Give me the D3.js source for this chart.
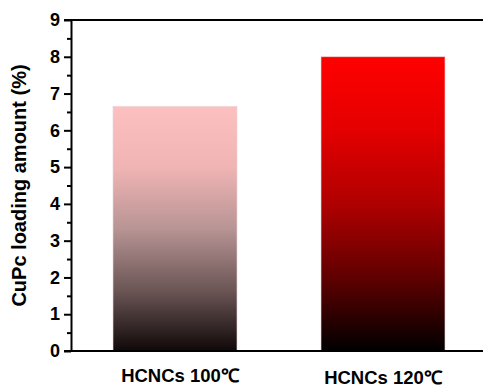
<!DOCTYPE html>
<html>
<head>
<meta charset="utf-8">
<script src="https://cdn.jsdelivr.net/npm/d3@7"></script>
<style>
  html, body { margin: 0; padding: 0; background: #fff; }
  svg { display: block; }
</style>
</head>
<body>
<svg id="chart"></svg>
<script>
// data
const categories = ['HCNCs 100℃', 'HCNCs 120℃'];
const loading = [6.65, 8.0];
const yTicks = [0, 1, 2, 3, 4, 5, 6, 7, 8, 9];
const yMinorTicks = [0.5, 1.5, 2.5, 3.5, 4.5, 5.5, 6.5, 7.5, 8.5];
const yTitle = 'CuPc loading amount (%)';

// gradient colours per bar, top -> bottom
const barStops = [
  [['0%', '#fdc0c0'], ['25%', '#f0b4b4'], ['50%', '#b89494'], ['75%', '#6c5656'], ['100%', '#100808']],
  [['0%', '#ff0000'], ['25%', '#e40000'], ['50%', '#b00000'], ['75%', '#600000'], ['100%', '#000000']]
];

const width = 483, height = 387;
const marginLeft = 71, marginTop = 20, bottomY = 351;
const font = '"Liberation Sans", Arial, Helvetica, sans-serif';

const svg = d3.select('#chart')
  .attr('width', width)
  .attr('height', height)
  .attr('viewBox', [0, 0, width, height]);

const x = d3.scaleBand()
  .domain(categories)
  .range([marginLeft, marginLeft + 416])
  .paddingInner(0.404)
  .paddingOuter(0.202);

const y = d3.scaleLinear()
  .domain([0, 9])
  .range([bottomY, marginTop]);

// gradients
const defs = svg.append('defs');
categories.forEach((c, i) => {
  const g = defs.append('linearGradient')
    .attr('id', `grad${i}`)
    .attr('x1', 0).attr('y1', 0)
    .attr('x2', 0).attr('y2', 1);
  g.selectAll('stop')
    .data(barStops[i])
    .join('stop')
    .attr('offset', d => d[0])
    .attr('stop-color', d => d[1]);
});

// bars
svg.append('g')
  .selectAll('rect')
  .data(categories)
  .join('rect')
  .attr('x', d => x(d))
  .attr('y', (d, i) => y(loading[i]))
  .attr('width', x.bandwidth())
  .attr('height', (d, i) => y(0) - y(loading[i]))
  .attr('fill', (d, i) => `url(#grad${i})`)
  .attr('stroke', '#e8d0d0')
  .attr('stroke-width', 0.6);

// minor ticks
svg.append('g')
  .attr('transform', `translate(${marginLeft},0)`)
  .call(d3.axisLeft(y).tickValues(yMinorTicks).tickSize(4).tickFormat(''))
  .call(g => g.select('.domain').remove())
  .call(g => g.selectAll('.tick line').attr('stroke', '#000').attr('stroke-width', 2));

// y axis
svg.append('g')
  .attr('transform', `translate(${marginLeft},0)`)
  .call(d3.axisLeft(y).tickValues(yTicks).tickSize(7).tickSizeOuter(0).tickPadding(4))
  .call(g => g.select('.domain').attr('stroke', '#000').attr('stroke-width', 2))
  .call(g => g.selectAll('.tick line').attr('stroke', '#000').attr('stroke-width', 2))
  .call(g => g.selectAll('.tick text')
    .attr('fill', '#000')
    .attr('font-family', font)
    .attr('font-weight', 'bold')
    .attr('font-size', 18));

// bottom axis line and top frame line
svg.append('line')
  .attr('x1', marginLeft - 7).attr('x2', width)
  .attr('y1', y(0)).attr('y2', y(0))
  .attr('stroke', '#000').attr('stroke-width', 2);
svg.append('line')
  .attr('x1', marginLeft - 7).attr('x2', width)
  .attr('y1', y(9)).attr('y2', y(9))
  .attr('stroke', '#000').attr('stroke-width', 2);

// x labels
svg.append('g')
  .selectAll('text')
  .data(categories)
  .join('text')
  .attr('x', (d, i) => x(d) + x.bandwidth() / 2 + (i ? 0 : 5))
  .attr('y', (d, i) => 382 + i * 1.5)
  .attr('text-anchor', 'middle')
  .attr('font-family', font)
  .attr('font-weight', 'bold')
  .attr('font-size', 18.5)
  .text(d => d);

// y title
svg.append('text')
  .attr('transform', `translate(26,${(marginTop + bottomY) / 2}) rotate(-90)`)
  .attr('text-anchor', 'middle')
  .attr('font-family', font)
  .attr('font-weight', 'bold')
  .attr('font-size', 20)
  .text(yTitle);
</script>
</body>
</html>
